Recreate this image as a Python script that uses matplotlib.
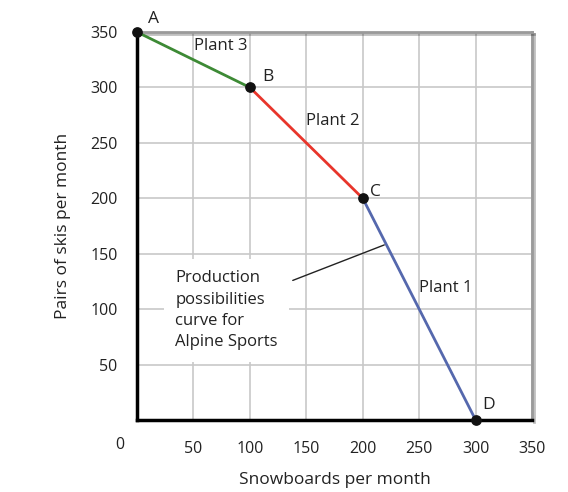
import matplotlib.pyplot as plt
import matplotlib.patheffects as pe

plt.rcParams['font.family'] = ['Open Sans', 'DejaVu Sans']

# points on the production possibilities curve
pt_labels = ["A", "B", "C", "D"]
snowboards = [0, 100, 200, 300]
skis = [350, 300, 200, 0]
plants = ["Plant 3", "Plant 2", "Plant 1"]
plant_pos = [(51, 337), (150, 270), (250, 119)]
seg_colors = ["#3d8a35", "#e8352b", "#5568ad"]
ticks = [50, 100, 150, 200, 250, 300, 350]

fig = plt.figure(figsize=(5.68, 4.92), dpi=100)
ax = fig.add_axes([0.241, 0.146, 0.696, 0.789])
ax.set_xlim(0, 350)
ax.set_ylim(0, 350)

ax.set_xticks(ticks)
ax.set_yticks(ticks)
ax.grid(True, color="#c8c8c8", lw=1.2)
ax.set_axisbelow(True)
ax.tick_params(length=0, labelsize=11.5, pad=14, colors="#222222")
ax.tick_params(axis="x", pad=15)

for side in ["left", "bottom"]:
    ax.spines[side].set_linewidth(2.5)
    ax.spines[side].set_color("black")
for side in ["top", "right"]:
    ax.spines[side].set_linewidth(2)
    ax.spines[side].set_color("#9a9a9a")
    ax.spines[side].set_path_effects([pe.SimpleLineShadow(offset=(1.5, -1.5), alpha=0.25), pe.Normal()])

for i in range(3):
    ax.plot(snowboards[i:i + 2], skis[i:i + 2], color=seg_colors[i], lw=2, zorder=3)
ax.scatter(snowboards, skis, s=45, color="#111111", zorder=4, clip_on=False)

offsets = [(8, 9.4), (8.6, 7.2), (5, 4.3), (5, 11)]
for lbl, x, y, off in zip(pt_labels, snowboards, skis, offsets):
    ax.annotate(lbl, (x, y), xytext=off, textcoords="offset points", fontsize=12.5,
                color="#222222", va="center")

# segment labels
for name, (px, py) in zip(plants, plant_pos):
    ax.text(px, py, name, fontsize=12, color="#222222", va="center")

ax.text(34, 99, "Production\npossibilities\ncurve for\nAlpine Sports",
        fontsize=12, color="#222222", va="center", linespacing=1.45, zorder=2,
        bbox=dict(boxstyle="square,pad=0.7", facecolor="white", edgecolor="none"))
ax.annotate("", xy=(219, 158), xytext=(138, 126),
            arrowprops=dict(arrowstyle="-", color="#222222", lw=1, shrinkA=0, shrinkB=0))

ax.text(-15, -22, "0", fontsize=11.5, color="#222222", ha="center", va="center")
ax.set_xlabel("Snowboards per month", fontsize=12.5, labelpad=11, color="#222222")
ax.set_ylabel("Pairs of skis per month", fontsize=12.5, labelpad=14, color="#222222")

fig.savefig("out.png", dpi=100)
